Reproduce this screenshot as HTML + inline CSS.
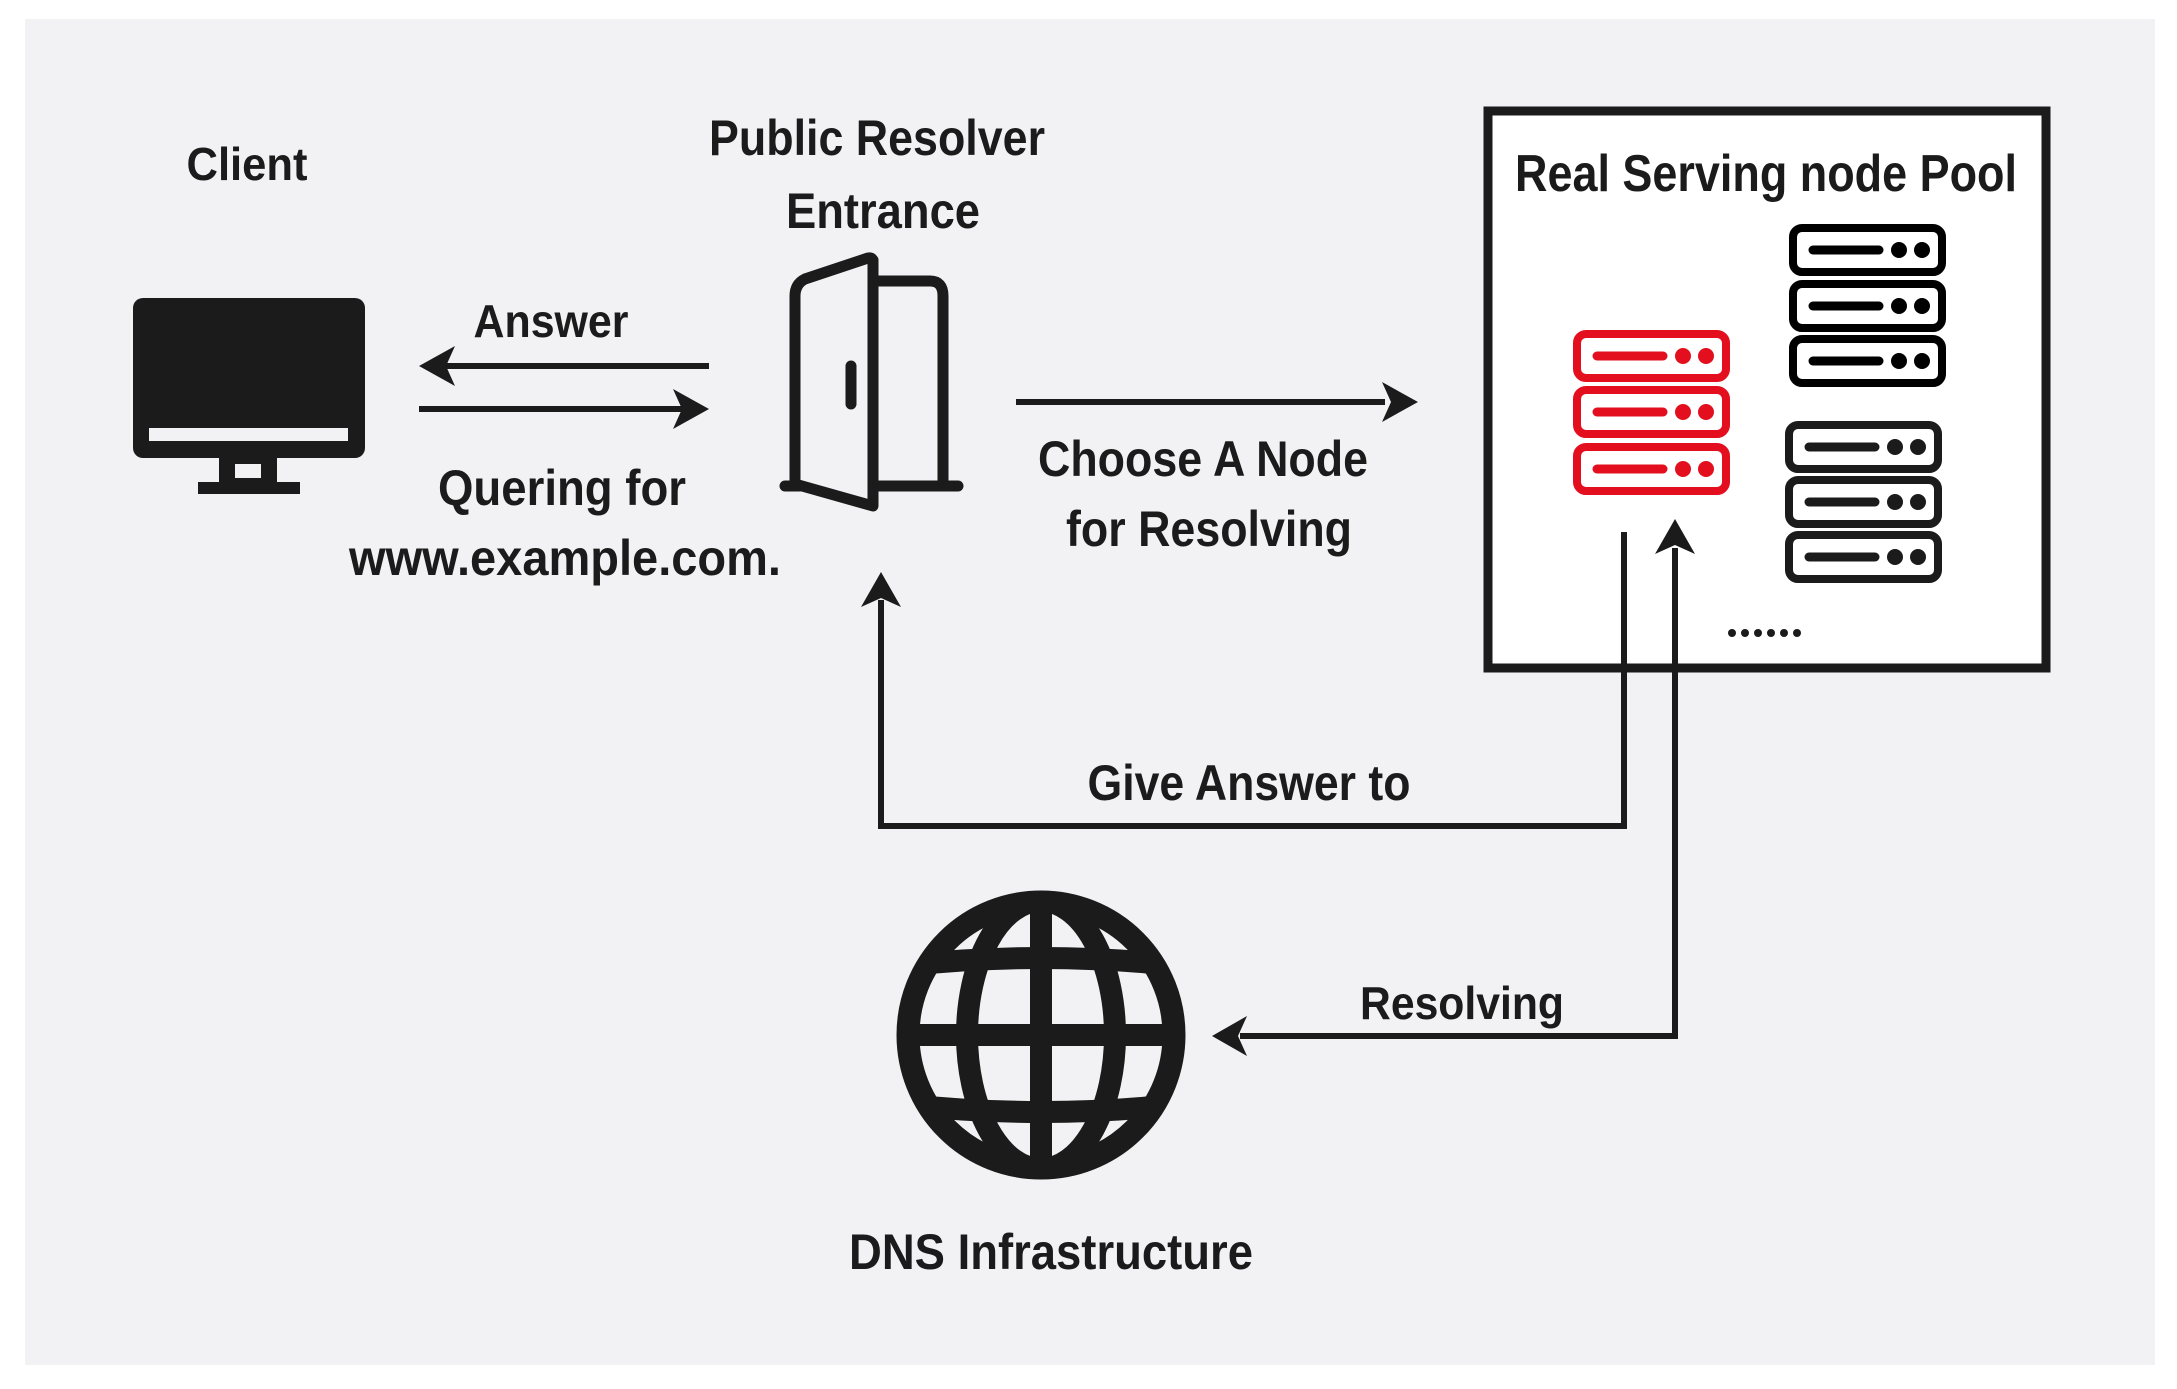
<!DOCTYPE html>
<html><head><meta charset="utf-8"><style>
html,body{margin:0;padding:0;background:#fff;}
svg{display:block;}
text{font-family:"Liberation Sans Narrow","Liberation Sans",sans-serif;font-weight:bold;fill:#1b1b1b;}
.a{font-family:"Liberation Sans",sans-serif;}
</style></head><body>
<svg width="2177" height="1389" viewBox="0 0 2177 1389" xmlns="http://www.w3.org/2000/svg">
<rect x="0" y="0" width="2177" height="1389" fill="#fff"/>
<rect x="25" y="19" width="2130" height="1346" fill="#f2f2f4"/>

<!-- Client monitor -->
<rect x="133" y="298" width="232" height="160" rx="10" fill="#1b1b1b"/>
<rect x="149" y="428" width="199" height="13" fill="#f2f2f4"/>
<rect x="219" y="458" width="58" height="26" fill="#1b1b1b"/>
<rect x="235" y="464" width="26" height="14" fill="#f2f2f4"/>
<rect x="198" y="482" width="102" height="12" fill="#1b1b1b"/>
<text class="a" x="247" y="180" font-size="46" text-anchor="middle" textLength="121" lengthAdjust="spacingAndGlyphs">Client</text>

<!-- Answer / query arrows -->
<g stroke="#1b1b1b" stroke-width="6" fill="none">
<line x1="435" y1="366" x2="709" y2="366"/>
<line x1="419" y1="409" x2="693" y2="409"/>
</g>
<polygon points="419,366 455,346 446,366 455,386" fill="#1b1b1b"/>
<polygon points="709,409 673,389 682,409 673,429" fill="#1b1b1b"/>
<text class="a" x="551" y="337" font-size="46" text-anchor="middle" textLength="155" lengthAdjust="spacingAndGlyphs">Answer</text>
<text x="562" y="505" font-size="50" text-anchor="middle" textLength="248" lengthAdjust="spacingAndGlyphs">Quering for</text>
<text x="565" y="575" font-size="50" text-anchor="middle" textLength="432" lengthAdjust="spacingAndGlyphs">www.example.com.</text>

<!-- Door -->
<text x="877" y="155" font-size="50" text-anchor="middle" textLength="336" lengthAdjust="spacingAndGlyphs">Public Resolver</text>
<text x="883" y="228" font-size="50" text-anchor="middle" textLength="194" lengthAdjust="spacingAndGlyphs">Entrance</text>
<g stroke="#1b1b1b" stroke-width="11" fill="none" stroke-linecap="round" stroke-linejoin="round">
<path d="M873,281 L930,281 Q943,281 943,296 L943,486"/>
<line x1="873" y1="486" x2="958" y2="486"/>
<path d="M873,260 L873,506 L795,484 L795,296 Q795,284 805,279 L868,258 Q873,257 873,262"/>
<line x1="785" y1="486" x2="800" y2="486"/>
<line x1="851" y1="366" x2="851" y2="404"/>
</g>

<!-- Choose arrow -->
<line x1="1016" y1="402" x2="1385" y2="402" stroke="#1b1b1b" stroke-width="6"/>
<polygon points="1418,402 1382,382 1391,402 1382,422" fill="#1b1b1b"/>
<text x="1203" y="476" font-size="50" text-anchor="middle" textLength="330" lengthAdjust="spacingAndGlyphs">Choose A Node</text>
<text x="1209" y="546" font-size="50" text-anchor="middle" textLength="286" lengthAdjust="spacingAndGlyphs">for Resolving</text>

<!-- Pool box -->
<rect x="1488" y="111" width="558" height="557" fill="#fff" stroke="#1b1b1b" stroke-width="9"/>
<text x="1766" y="191" font-size="52" text-anchor="middle" textLength="502" lengthAdjust="spacingAndGlyphs">Real Serving node Pool</text>

<defs>
<g id="unit">
<rect x="4" y="4" width="149" height="44" rx="9" fill="none" stroke-width="8"/>
<line x1="24" y1="26" x2="90" y2="26" stroke-width="9" stroke-linecap="round"/>
<circle cx="110" cy="26" r="8" stroke="none"/>
<circle cx="133" cy="26" r="8" stroke="none"/>
</g>
</defs>
<g stroke="#e30f1e" fill="#e30f1e">
<use href="#unit" x="1573" y="330"/>
<use href="#unit" x="1573" y="386"/>
<use href="#unit" x="1573" y="443"/>
</g>
<g stroke="#000" fill="#000">
<use href="#unit" x="1789" y="224"/>
<use href="#unit" x="1789" y="280"/>
<use href="#unit" x="1789" y="335"/>
</g>
<g stroke="#1b1b1b" fill="#1b1b1b">
<use href="#unit" x="1785" y="421"/>
<use href="#unit" x="1785" y="476"/>
<use href="#unit" x="1785" y="531"/>
</g>
<g fill="#1b1b1b">
<circle cx="1732" cy="633" r="4"/><circle cx="1745" cy="633" r="4"/><circle cx="1758" cy="633" r="4"/>
<circle cx="1771" cy="633" r="4"/><circle cx="1784" cy="633" r="4"/><circle cx="1797" cy="633" r="4"/>
</g>

<!-- Give answer path -->
<polyline points="1624,532 1624,826 881,826 881,600" fill="none" stroke="#1b1b1b" stroke-width="6"/>
<polygon points="881,572 861,607 881,598 901,607" fill="#1b1b1b"/>
<text x="1249" y="800" font-size="50" text-anchor="middle" textLength="323" lengthAdjust="spacingAndGlyphs">Give Answer to</text>

<!-- Resolving path -->
<polyline points="1675,548 1675,1036 1240,1036" fill="none" stroke="#1b1b1b" stroke-width="6"/>
<polygon points="1675,519 1655,554 1675,545 1695,554" fill="#1b1b1b"/>
<polygon points="1212,1036 1247,1016 1238,1036 1247,1056" fill="#1b1b1b"/>
<text class="a" x="1462" y="1019" font-size="46" text-anchor="middle" textLength="204" lengthAdjust="spacingAndGlyphs">Resolving</text>

<!-- Globe -->
<defs><clipPath id="gc"><circle cx="1041" cy="1035" r="134"/></clipPath></defs>
<g stroke="#1b1b1b" stroke-width="22" fill="none" clip-path="url(#gc)">
<line x1="1041" y1="880" x2="1041" y2="1190"/>
<line x1="890" y1="1035" x2="1190" y2="1035"/>
<ellipse cx="1041" cy="1035" rx="74" ry="134"/>
<path d="M900,966 Q1041,950 1182,966"/>
<path d="M900,1104 Q1041,1120 1182,1104"/>
</g>
<circle cx="1041" cy="1035" r="133" fill="none" stroke="#1b1b1b" stroke-width="23"/>
<text x="1051" y="1269" font-size="50" text-anchor="middle" textLength="404" lengthAdjust="spacingAndGlyphs">DNS Infrastructure</text>
</svg>
</body></html>
